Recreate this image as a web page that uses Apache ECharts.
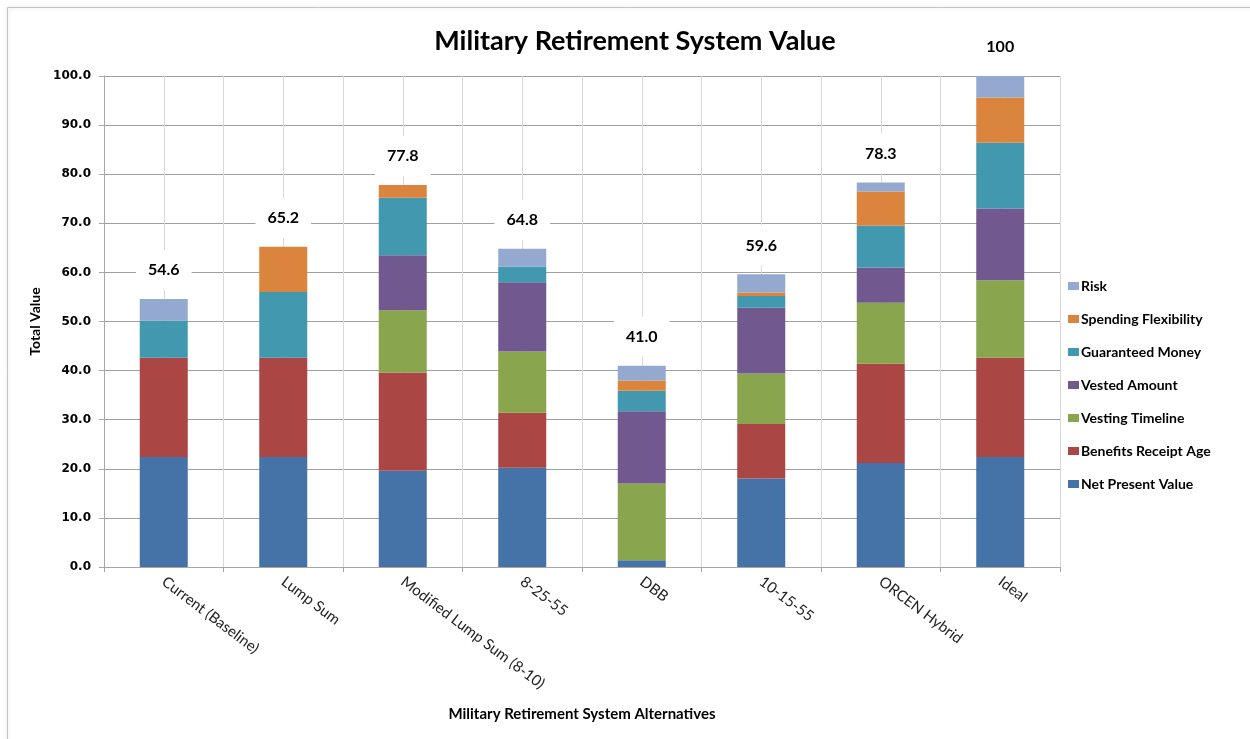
<!DOCTYPE html>
<html>
<head>
<meta charset="utf-8">
<title>Military Retirement System Value</title>
<script src="https://cdn.jsdelivr.net/npm/echarts@6/dist/echarts.min.js"></script>
<style>
  html, body { margin: 0; padding: 0; background: #ffffff; }
  #chart { width: 1250px; height: 739px; }
</style>
</head>
<body>
<div id="chart"></div>
<script>
// Alternatives compared on the x axis
const categories = ['Current (Baseline)', 'Lump Sum', 'Modified Lump Sum (8-10)', '8-25-55', 'DBB', '10-15-55', 'ORCEN Hybrid', 'Ideal'];

// Value contributed by each attribute (stacked bottom to top)
const netPresentValue     = [22.4, 22.4, 19.6, 20.2,  1.4, 18.0, 21.2, 22.4];
const benefitsReceiptAge  = [20.2, 20.2, 20.0, 11.2,  0.0, 11.1, 20.2, 20.2];
const vestingTimeline     = [ 0.0,  0.0, 12.7, 12.5, 15.6, 10.3, 12.4, 15.8];
const vestedAmount        = [ 0.0,  0.0, 11.2, 14.1, 14.7, 13.4,  7.2, 14.6];
const guaranteedMoney     = [ 7.6, 13.4, 11.7,  3.2,  4.2,  2.4,  8.5, 13.4];
const spendingFlexibility = [ 0.0,  9.2,  2.6,  0.0,  2.1,  0.7,  7.0,  9.2];
const risk                = [ 4.4,  0.0,  0.0,  3.6,  3.0,  3.7,  1.8,  4.4];

// Y axis ticks
const yTicks = [0, 10, 20, 30, 40, 50, 60, 70, 80, 90, 100];

const attributes = [
  { name: 'Net Present Value',    data: netPresentValue,     color: '#4572A7' },
  { name: 'Benefits Receipt Age', data: benefitsReceiptAge,  color: '#AA4643' },
  { name: 'Vesting Timeline',     data: vestingTimeline,     color: '#89A54E' },
  { name: 'Vested Amount',        data: vestedAmount,        color: '#71588F' },
  { name: 'Guaranteed Money',     data: guaranteedMoney,     color: '#4198AF' },
  { name: 'Spending Flexibility', data: spendingFlexibility, color: '#DB843D' },
  { name: 'Risk',                 data: risk,                color: '#93A9CF' }
];

// Stack totals, shown above each bar
const totals = categories.map((_, i) =>
  Math.round(attributes.reduce((s, a) => s + a.data[i], 0) * 10) / 10);

const FONT = 'Lato, "Open Sans", sans-serif';

const chart = echarts.init(document.getElementById('chart'), null, { renderer: 'canvas' });

const barSeries = attributes.map(a => ({
  name: a.name,
  type: 'bar',
  stack: 'total',
  xAxisIndex: 0,
  barWidth: 48,
  data: a.data,
  itemStyle: { color: a.color },
  emphasis: { disabled: true }
}));

const totalSeries = {
  name: 'Total',
  type: 'scatter',
  xAxisIndex: 0,
  symbolSize: 0,
  data: totals,
  z: 5,
  itemStyle: { opacity: 1 },
  label: {
    show: true,
    position: 'top',
    distance: 9,
    formatter: p => (p.value >= 100 ? String(p.value) : p.value.toFixed(1)),
    fontFamily: FONT,
    fontSize: 16,
    fontWeight: 'bold',
    color: '#000',
    opacity: 1,
    backgroundColor: '#ffffff',
    padding: [12, 12, 12, 12]
  },
  emphasis: { disabled: true }
};

chart.setOption({
  animation: false,
  backgroundColor: '#ffffff',
  graphic: [{
    type: 'rect',
    silent: true,
    z: -10,
    shape: { x: 7.5, y: 7.5, width: 1300, height: 800 },
    style: { fill: 'none', stroke: '#c4c4c4', lineWidth: 1, shadowBlur: 4, shadowColor: 'rgba(0,0,0,0.18)' }
  }],
  title: {
    text: 'Military Retirement System Value',
    left: 630,
    top: 23,
    textAlign: 'center',
    textStyle: { fontFamily: FONT, fontSize: 27, fontWeight: 'bold', color: '#000' }
  },
  legend: {
    orient: 'vertical',
    left: 1068,
    top: 279,
    padding: 0,
    itemWidth: 11,
    itemHeight: 8,
    itemGap: 19,
    icon: 'rect',
    selectedMode: false,
    data: ['Risk', 'Spending Flexibility', 'Guaranteed Money', 'Vested Amount', 'Vesting Timeline', 'Benefits Receipt Age', 'Net Present Value'],
    textStyle: { fontFamily: FONT, fontSize: 14, fontWeight: 'bold', color: '#000', lineHeight: 14, padding: [0, 0, 0, -3] }
  },
  grid: { left: 104, right: 190, top: 76, bottom: 172 },
  xAxis: [{
    type: 'category',
    data: categories,
    name: 'Military Retirement System Alternatives',
    nameLocation: 'middle',
    nameGap: 140,
    nameTextStyle: { fontFamily: FONT, fontSize: 15, fontWeight: 'bold', color: '#000' },
    axisLine: { lineStyle: { color: '#a6a6a6', width: 1 } },
    axisTick: { show: true, length: 5, interval: 0, lineStyle: { color: '#a6a6a6' } },
    axisLabel: {
      interval: 0,
      rotate: -37,
      margin: 13,
      fontFamily: FONT,
      fontSize: 15,
      color: '#222'
    },
    splitLine: { show: false }
  }, {
    // Vertical grid lines at every half category
    type: 'value',
    min: 0,
    max: categories.length * 2,
    interval: 1,
    position: 'top',
    axisLine: { show: false },
    axisTick: { show: false },
    axisLabel: { show: false },
    splitLine: { show: true, lineStyle: { color: '#d9d9d9', width: 1 } }
  }],
  yAxis: {
    type: 'value',
    min: yTicks[0],
    max: yTicks[yTicks.length - 1],
    interval: yTicks[1] - yTicks[0],
    name: 'Total Value',
    nameLocation: 'middle',
    nameGap: 55,
    nameRotate: 90,
    nameTextStyle: { fontFamily: FONT, fontSize: 14, fontWeight: 'bold', color: '#000' },
    axisLine: { show: true, lineStyle: { color: '#a6a6a6' } },
    axisTick: { show: true, length: 5, lineStyle: { color: '#a6a6a6' } },
    axisLabel: {
      margin: 13,
      formatter: v => v.toFixed(1),
      fontFamily: '"DejaVu Sans", sans-serif',
      fontSize: 12,
      fontWeight: 'bold',
      color: '#000'
    },
    splitLine: { show: true, lineStyle: { color: '#a0a0a0', width: 1 } }
  },
  series: [...barSeries, totalSeries]
});
</script>
</body>
</html>
